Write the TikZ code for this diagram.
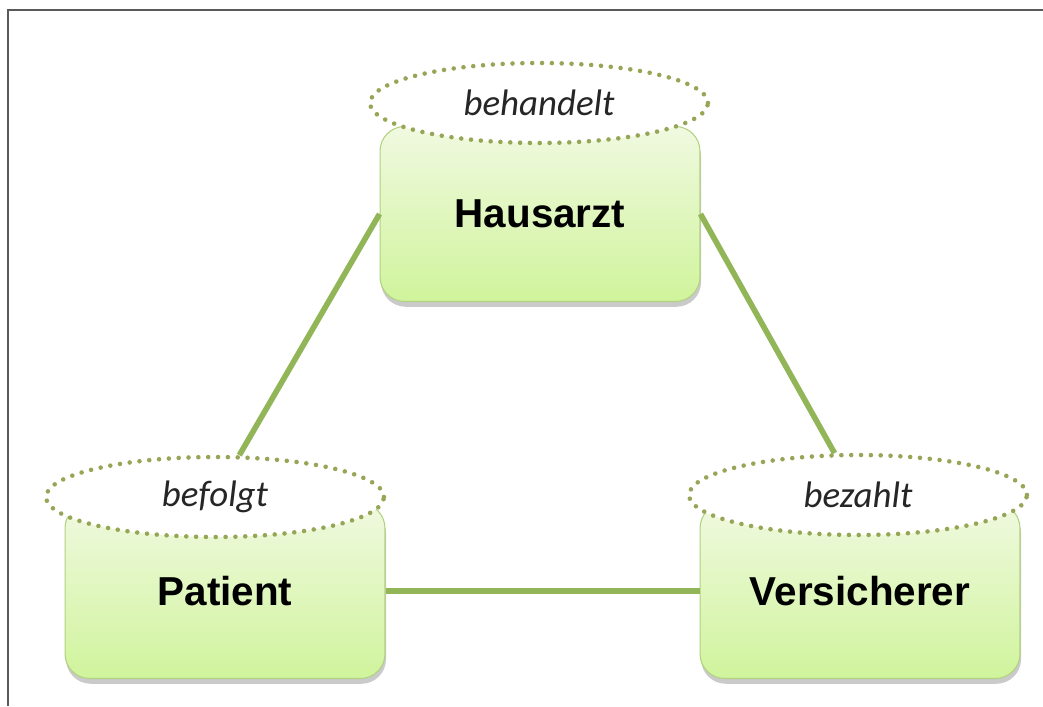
\documentclass[tikz,border=0pt]{standalone}
\usepackage{fontspec}
\setmainfont{Liberation Sans}
\newfontfamily\labelfont{Carlito}
\usepackage{tikz}
\usetikzlibrary{shapes.geometric,shadows}

\definecolor{linkgreen}{RGB}{146,181,88}
\definecolor{dotgreen}{RGB}{150,166,86}
\definecolor{boxtop}{RGB}{240,249,224}
\definecolor{boxbottom}{RGB}{208,244,156}
\definecolor{boxedge}{RGB}{178,210,128}

\begin{document}
\begin{tikzpicture}[x=0.02cm,y=-0.02cm,
role/.style={draw=boxedge,line width=0.6pt,rounded corners=14pt,top color=boxtop,bottom color=boxbottom,
  minimum width=6.4cm,minimum height=3.5cm,font=\fontsize{23}{26}\selectfont\bfseries,
  drop shadow={shadow xshift=0.6pt,shadow yshift=-3pt,opacity=0.35,fill=black!60}},
duty/.style={ellipse,draw=dotgreen,fill=white,line width=2.6pt,line cap=round,dash pattern=on 0pt off 5.6pt,
  minimum width=6.76cm,minimum height=1.6cm,inner sep=0pt,font=\labelfont\itshape\fontsize{21}{24}\selectfont,text=black!85},
link/.style={draw=linkgreen,line width=3.2pt}]
\useasboundingbox (0,0) rectangle (1043,706);
% frame, only the top and left edges
\draw[black!65,line width=1.3pt] (1043,10) -- (8,10) -- (8,706);
% the three parties
\node[role] (hausarzt) at (540,214) {Hausarzt};
\node[role] (patient) at (225,591) {Patient};
\node[role] (versicherer) at (860,591) {Versicherer};
% what each party does
\node[duty] (behandelt) at (539,103) {behandelt};
\node[duty] (befolgt) at (215,497) {befolgt};
\node[duty] (bezahlt) at (858,495) {bezahlt};
% links between them
\draw[link] (hausarzt.west) -- (befolgt);
\draw[link] (hausarzt.east) -- (bezahlt);
\draw[link] (patient.east) -- (versicherer.west);
\end{tikzpicture}
\end{document}
